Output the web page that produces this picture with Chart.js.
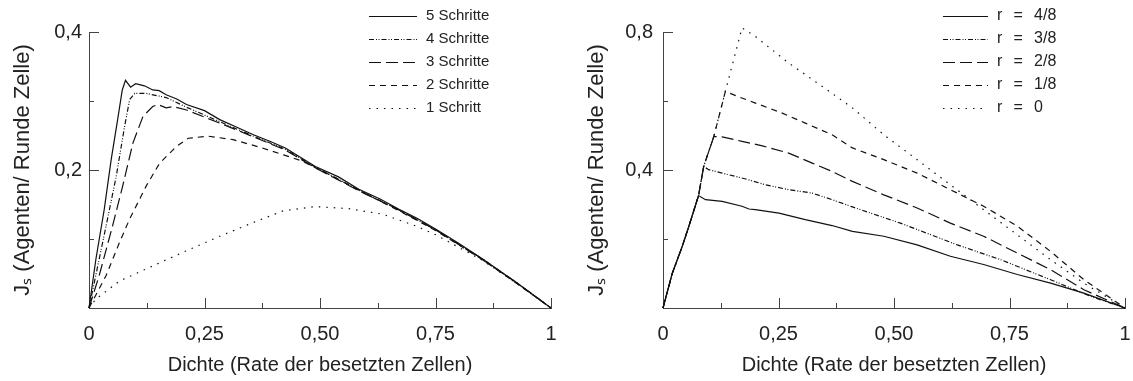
<!DOCTYPE html>
<html>
<head>
<meta charset="utf-8">
<script src="https://cdn.jsdelivr.net/npm/chart.js@4.4.1/dist/chart.umd.min.js"></script>
<style>
  html, body { margin: 0; padding: 0; background: #fff; }
  #links { position: absolute; left: 0; top: 0; width: 560px; height: 381px; }
  #rechts { position: absolute; left: 560px; top: 0; width: 573px; height: 381px; }
</style>
</head>
<body>
<div id="links"><canvas id="chartLinks"></canvas></div>
<div id="rechts"><canvas id="chartRechts"></canvas></div>
<script>
// linkes Diagramm: Anzahl Schritte
let d5 = [0, 0.015, 0.033, 0.048, 0.062, 0.072, 0.079, 0.09, 0.101, 0.12, 0.138, 0.152, 0.167, 0.19, 0.211, 0.25, 0.283, 0.32, 0.356, 0.39, 0.425, 0.49, 0.54, 0.584, 0.63, 0.671, 0.71, 0.751, 0.8, 0.852, 0.925, 1];
let j5 = [0, 0.071, 0.143, 0.215, 0.273, 0.316, 0.33, 0.32, 0.325, 0.322, 0.316, 0.315, 0.309, 0.303, 0.295, 0.286, 0.273, 0.262, 0.251, 0.242, 0.232, 0.205, 0.19, 0.172, 0.158, 0.143, 0.13, 0.114, 0.094, 0.071, 0.037, 0];
let d4 = [0, 0.037, 0.059, 0.077, 0.088, 0.099, 0.124, 0.167, 0.211, 0.283, 0.356, 0.425, 0.49, 0.584, 0.671, 0.751, 0.852, 0.925, 1];
let j4 = [0, 0.119, 0.191, 0.263, 0.302, 0.311, 0.311, 0.305, 0.291, 0.27, 0.249, 0.23, 0.204, 0.171, 0.142, 0.113, 0.071, 0.037, 0];
let d3 = [0, 0.022, 0.051, 0.073, 0.095, 0.117, 0.138, 0.149, 0.167, 0.182, 0.211, 0.283, 0.356, 0.425, 0.49, 0.584, 0.671, 0.751, 0.852, 0.925, 1];
let j3 = [0, 0.047, 0.119, 0.177, 0.239, 0.278, 0.292, 0.295, 0.29, 0.292, 0.287, 0.268, 0.248, 0.229, 0.203, 0.17, 0.142, 0.113, 0.07, 0.037, 0];
let d2 = [0, 0.037, 0.066, 0.088, 0.124, 0.153, 0.189, 0.215, 0.258, 0.312, 0.37, 0.421, 0.461, 0.53, 0.6, 0.671, 0.751, 0.852, 0.925, 1];
let j2 = [0, 0.047, 0.095, 0.129, 0.177, 0.21, 0.234, 0.246, 0.249, 0.244, 0.233, 0.222, 0.213, 0.19, 0.165, 0.141, 0.112, 0.07, 0.036, 0];
let d1 = [0, 0.015, 0.066, 0.138, 0.211, 0.283, 0.356, 0.421, 0.49, 0.562, 0.635, 0.707, 0.751, 0.852, 0.925, 1];
let j1 = [0, 0.013, 0.039, 0.061, 0.083, 0.104, 0.124, 0.141, 0.147, 0.144, 0.136, 0.119, 0.106, 0.069, 0.036, 0];
let schritteLabels = ["5 Schritte", "4 Schritte", "3 Schritte", "2 Schritte", "1 Schritt"];

// rechtes Diagramm: Wahrscheinlichkeit r
let r48d = [0, 0.02, 0.042, 0.056, 0.077, 0.092, 0.128, 0.171, 0.186, 0.2, 0.251, 0.308, 0.366, 0.41, 0.478, 0.55, 0.622, 0.694, 0.767, 0.839, 0.911, 1];
let r48j = [0, 0.1, 0.18, 0.237, 0.326, 0.314, 0.309, 0.295, 0.287, 0.285, 0.275, 0.256, 0.239, 0.222, 0.208, 0.183, 0.15, 0.126, 0.097, 0.072, 0.043, 0];
let r38d = [0, 0.02, 0.042, 0.056, 0.077, 0.088, 0.099, 0.128, 0.179, 0.222, 0.272, 0.323, 0.366, 0.41, 0.514, 0.637, 0.731, 0.839, 0.925, 1];
let r38j = [0, 0.1, 0.18, 0.237, 0.326, 0.41, 0.401, 0.391, 0.374, 0.357, 0.343, 0.333, 0.314, 0.293, 0.246, 0.183, 0.14, 0.082, 0.034, 0];
let r28d = [0, 0.02, 0.042, 0.056, 0.077, 0.088, 0.11, 0.128, 0.171, 0.215, 0.272, 0.323, 0.366, 0.41, 0.478, 0.55, 0.622, 0.694, 0.767, 0.839, 0.911, 1];
let r28j = [0, 0.1, 0.18, 0.237, 0.326, 0.41, 0.497, 0.496, 0.483, 0.47, 0.449, 0.42, 0.396, 0.367, 0.328, 0.29, 0.246, 0.208, 0.159, 0.111, 0.053, 0];
let r18d = [0, 0.02, 0.042, 0.056, 0.077, 0.088, 0.11, 0.135, 0.164, 0.2, 0.258, 0.308, 0.366, 0.41, 0.478, 0.55, 0.622, 0.694, 0.767, 0.839, 0.911, 1];
let r18j = [0, 0.1, 0.18, 0.237, 0.326, 0.41, 0.497, 0.628, 0.612, 0.594, 0.565, 0.536, 0.502, 0.464, 0.43, 0.391, 0.343, 0.295, 0.237, 0.164, 0.082, 0];
let r0d = [0, 0.02, 0.042, 0.056, 0.077, 0.088, 0.11, 0.135, 0.171, 0.2, 0.272, 0.345, 0.41, 0.478, 0.55, 0.622, 0.694, 0.767, 0.839, 0.911, 1];
let r0j = [0, 0.1, 0.18, 0.237, 0.326, 0.41, 0.497, 0.628, 0.812, 0.787, 0.71, 0.642, 0.58, 0.502, 0.43, 0.357, 0.285, 0.212, 0.14, 0.072, 0];
let rLabels = ["r\u2002\u2009=\u2002\u20094/8", "r\u2002\u2009=\u2002\u20093/8", "r\u2002\u2009=\u2002\u20092/8", "r\u2002\u2009=\u2002\u20091/8", "r\u2002\u2009=\u2002\u20090"];

let strichMuster = [[], [5, 2, 1, 1.5, 1, 2], [12, 5], [6, 5], [1.5, 6]];

Chart.defaults.font.family = "'Liberation Sans', sans-serif";
Chart.defaults.color = "#222";

function punkte(xs, ys) {
  return xs.map((v, i) => ({ x: v, y: ys[i] }));
}

function datensatz(label, xs, ys, i) {
  return {
    label: label,
    data: punkte(xs, ys),
    borderColor: "#111",
    borderWidth: 1.2,
    borderDash: strichMuster[i],
    pointRadius: 0,
    fill: false,
    clip: false
  };
}

// kurze Striche nach innen
const innenStriche = {
  id: "innenStriche",
  afterDraw(chart) {
    const { ctx, chartArea: a, scales: { x, y } } = chart;
    ctx.save();
    ctx.strokeStyle = "#444";
    ctx.lineWidth = 1;
    ctx.beginPath();
    x.ticks.forEach(t => {
      if (t.value === 0) return;
      const px = Math.round(x.getPixelForValue(t.value)) + 0.5;
      const len = t.label !== "" ? 10 : 5;
      ctx.moveTo(px, a.bottom);
      ctx.lineTo(px, a.bottom - len);
    });
    y.ticks.forEach(t => {
      if (t.value === 0) return;
      const py = Math.round(y.getPixelForValue(t.value)) + 0.5;
      const len = t.label !== "" ? 10 : 5;
      ctx.moveTo(a.left, py);
      ctx.lineTo(a.left + len, py);
    });
    ctx.stroke();
    ctx.restore();
  }
};

// Legende oben rechts im Diagramm
const innenLegende = {
  id: "innenLegende",
  afterDraw(chart, args, opts) {
    const ctx = chart.ctx;
    ctx.save();
    ctx.font = opts.size + "px 'Liberation Sans', sans-serif";
    ctx.fillStyle = "#222";
    ctx.textBaseline = "middle";
    chart.data.datasets.forEach((ds, i) => {
      const y = opts.y + i * opts.step;
      ctx.strokeStyle = "#111";
      ctx.lineWidth = 1.2;
      ctx.setLineDash(ds.borderDash || []);
      ctx.beginPath();
      ctx.moveTo(opts.x, y + 0.5);
      ctx.lineTo(opts.x + opts.len, y + 0.5);
      ctx.stroke();
      ctx.setLineDash([]);
      ctx.fillText(ds.label, opts.x + opts.len + 9, y);
    });
    ctx.restore();
  }
};

function xTick(v) {
  const r = Math.round(v * 1000) / 1000;
  if (Math.abs(r * 4 - Math.round(r * 4)) > 1e-6) return "";
  if (r === 0) return "0";
  if (r === 1) return "1";
  return r.toFixed(2).replace(".", ",");
}

function optionen(yMax, yStep, yMajor, yBreite, yTitelAbstand, yPad, rechtsPad, legende) {
  return {
    responsive: true,
    maintainAspectRatio: false,
    animation: false,
    layout: { padding: { left: 0, top: 32, right: rechtsPad, bottom: 0 } },
    plugins: {
      legend: { display: false },
      tooltip: { enabled: false },
      innenLegende: legende
    },
    scales: {
      x: {
        type: "linear",
        min: 0,
        max: 1,
        grid: { display: false, drawTicks: false },
        border: { color: "#444", width: 1 },
        ticks: { stepSize: 0.125, autoSkip: false, maxRotation: 0, padding: 14, font: { size: 20 }, callback: xTick },
        title: { display: true, text: "Dichte (Rate der besetzten Zellen)", font: { size: 20 }, padding: { top: 0, bottom: 4 } },
        afterFit(scale) {
          scale.height = 73;
          scale.paddingLeft = 0;
          scale.paddingRight = 0;
        }
      },
      y: {
        min: 0,
        max: yMax,
        grid: { display: false, drawTicks: false },
        border: { color: "#444", width: 1 },
        ticks: {
          stepSize: yStep,
          autoSkip: false,
          padding: yPad,
          font: { size: 20 },
          callback(v) {
            const r = Math.round(v * 1000) / 1000;
            if (r === 0) return "";
            if (Math.abs(r / yMajor - Math.round(r / yMajor)) > 1e-6) return "";
            return String(r).replace(".", ",");
          }
        },
        title: { display: true, text: "Jₛ (Agenten/ Runde Zelle)", font: { size: 22 }, padding: { top: yTitelAbstand, bottom: 0 } },
        afterFit(scale) { scale.width = yBreite; }
      }
    }
  };
}

new Chart("chartLinks", {
  type: "line",
  data: {
    datasets: [
      datensatz(schritteLabels[0], d5, j5, 0),
      datensatz(schritteLabels[1], d4, j4, 1),
      datensatz(schritteLabels[2], d3, j3, 2),
      datensatz(schritteLabels[3], d2, j2, 3),
      datensatz(schritteLabels[4], d1, j1, 4)
    ]
  },
  options: optionen(0.4, 0.1, 0.2, 89, 10, 7, 9, { x: 369, y: 16, step: 23, len: 48, size: 15 }),
  plugins: [innenStriche, innenLegende]
});

new Chart("chartRechts", {
  type: "line",
  data: {
    datasets: [
      datensatz(rLabels[0], r48d, r48j, 0),
      datensatz(rLabels[1], r38d, r38j, 1),
      datensatz(rLabels[2], r28d, r28j, 2),
      datensatz(rLabels[3], r18d, r18j, 3),
      datensatz(rLabels[4], r0d, r0j, 4)
    ]
  },
  options: optionen(0.8, 0.2, 0.4, 103, 24, 10, 8, { x: 383, y: 16, step: 23, len: 45, size: 16 }),
  plugins: [innenStriche, innenLegende]
});
</script>
</body>
</html>
